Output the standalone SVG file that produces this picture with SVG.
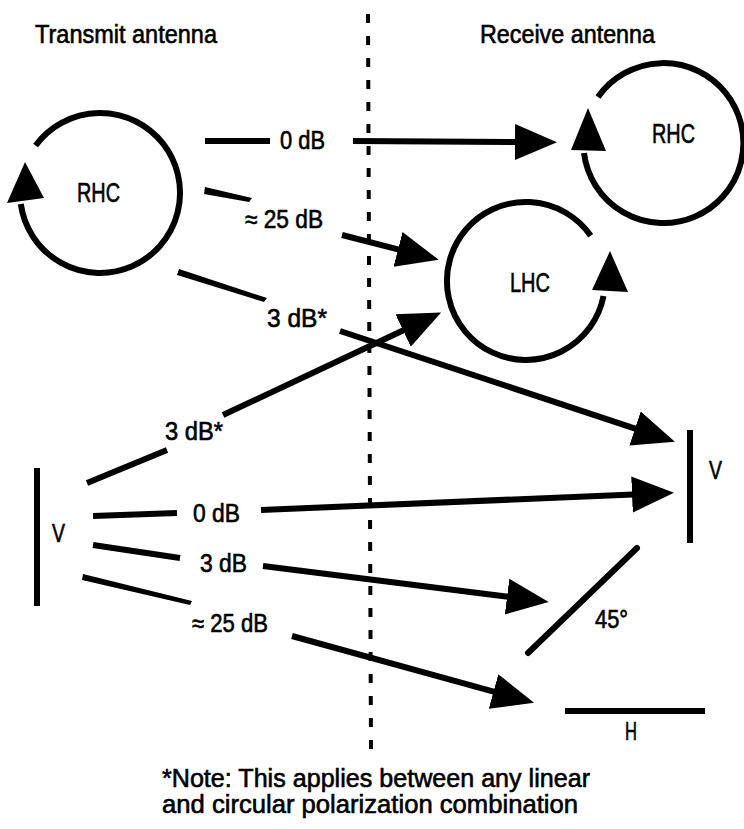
<svg xmlns="http://www.w3.org/2000/svg" width="744" height="829" viewBox="0 0 744 829">
<style>
text{font-family:"Liberation Sans Narrow","Liberation Sans",Arial,sans-serif;fill:#000;stroke:#000;stroke-width:0.6}
.t{font-size:25px}
.c{font-size:27px}
.n{font-size:25px}
.ln{stroke:#000;stroke-width:6;fill:none;stroke-linecap:butt}
.ar{stroke:#000;stroke-width:6;fill:none;marker-end:url(#ah)}
.ring{stroke:#000;stroke-width:6;fill:none}
.pol{stroke:#000;stroke-width:6;fill:none}
</style>
<defs>
<marker id="ah" markerUnits="userSpaceOnUse" viewBox="0 -19 44 38" markerWidth="44" markerHeight="38" refX="1" refY="0" orient="auto">
<path d="M0,-18 L42,0 L0,18 Z" fill="#000"/>
</marker>
</defs>
<rect width="744" height="829" fill="#fff"/>

<g id="titles">
<text class="t" x="35" y="43" textLength="182" lengthAdjust="spacingAndGlyphs">Transmit antenna</text>
<text class="t" x="480" y="43" textLength="175" lengthAdjust="spacingAndGlyphs">Receive antenna</text>
</g>

<g id="divider">
<line x1="368" y1="14" x2="371" y2="752" stroke="#000" stroke-width="4" stroke-dasharray="9 13"/>
</g>

<g id="tx-rhc">
<path class="ring" d="M35.6,145.5 A80,80 0 1 1 20.8,204"/>
<polygon points="25,162 7,203 44,198" fill="#000"/>
<text class="c" x="77" y="202" textLength="43" lengthAdjust="spacingAndGlyphs">RHC</text>
</g>

<g id="rx-rhc">
<path class="ring" d="M598,97 A80,80 0 1 1 584,153"/>
<polygon points="588,108 571,150 606,151" fill="#000"/>
<text class="c" x="652" y="143" textLength="43" lengthAdjust="spacingAndGlyphs">RHC</text>
</g>

<g id="rx-lhc">
<path class="ring" d="M590.7,235.7 A79,79 0 1 0 603.5,296"/>
<polygon points="610,251 592,290 628,292" fill="#000"/>
<text class="c" x="510" y="292" textLength="40" lengthAdjust="spacingAndGlyphs">LHC</text>
</g>

<g id="tx-v">
<line class="pol" x1="37" y1="468" x2="37" y2="606"/>
<text class="t" x="52" y="542" textLength="13" lengthAdjust="spacingAndGlyphs">V</text>
</g>

<g id="rx-v">
<line class="pol" x1="690" y1="430" x2="690" y2="543"/>
<text class="t" x="709" y="479" textLength="13" lengthAdjust="spacingAndGlyphs">V</text>
</g>

<g id="rx-45">
<line class="pol" x1="528" y1="653" x2="637" y2="548" stroke-linecap="round"/>
<text class="t" x="595" y="628" textLength="33" lengthAdjust="spacingAndGlyphs">45°</text>
</g>

<g id="rx-h">
<line class="pol" x1="565" y1="711" x2="705" y2="711"/>
<text class="t" x="625" y="740" textLength="12" lengthAdjust="spacingAndGlyphs">H</text>
</g>

<g id="connectors">
<line class="ln" x1="205" y1="141" x2="270" y2="141"/>
<line class="ar" x1="353" y1="141" x2="516" y2="142"/>

<polygon points="205,187 252,198 249,202 204,194" fill="#000"/>
<line class="ar" x1="342" y1="235" x2="399" y2="249.6"/>

<polygon points="179,269 267,298 264,302 177,275" fill="#000"/>
<line class="ar" x1="340" y1="331" x2="636" y2="428.8"/>

<line class="ln" x1="87" y1="483" x2="167" y2="450" stroke-width="7"/>
<line class="ar" x1="223" y1="415" x2="404" y2="330"/>

<line class="ln" x1="93" y1="516" x2="177" y2="513"/>
<line class="ar" x1="261" y1="510" x2="633" y2="494.5"/>

<line class="ln" x1="93" y1="545" x2="180" y2="558"/>
<line class="ar" x1="263" y1="566" x2="508" y2="596.8"/>

<polygon points="83,574 192,601 190,605 82,580" fill="#000"/>
<line class="ar" x1="292" y1="636" x2="494.5" y2="691.8"/>
</g>

<g id="labels">
<text class="t" x="280" y="149" textLength="45" lengthAdjust="spacingAndGlyphs">0 dB</text>
<text class="t" x="245" y="228" textLength="78" lengthAdjust="spacingAndGlyphs">≈ 25 dB</text>
<text class="t" x="267" y="327" textLength="60" lengthAdjust="spacingAndGlyphs">3 dB*</text>
<text class="t" x="165" y="440" textLength="58" lengthAdjust="spacingAndGlyphs">3 dB*</text>
<text class="t" x="193" y="522" textLength="47" lengthAdjust="spacingAndGlyphs">0 dB</text>
<text class="t" x="200" y="572" textLength="47" lengthAdjust="spacingAndGlyphs">3 dB</text>
<text class="t" x="192" y="632" textLength="76" lengthAdjust="spacingAndGlyphs">≈ 25 dB</text>
</g>

<g id="note">
<text class="n" x="162" y="787" textLength="428" lengthAdjust="spacingAndGlyphs">*Note: This applies between any linear</text>
<text class="n" x="162" y="813" textLength="416" lengthAdjust="spacingAndGlyphs">and circular polarization combination</text>
</g>
</svg>
